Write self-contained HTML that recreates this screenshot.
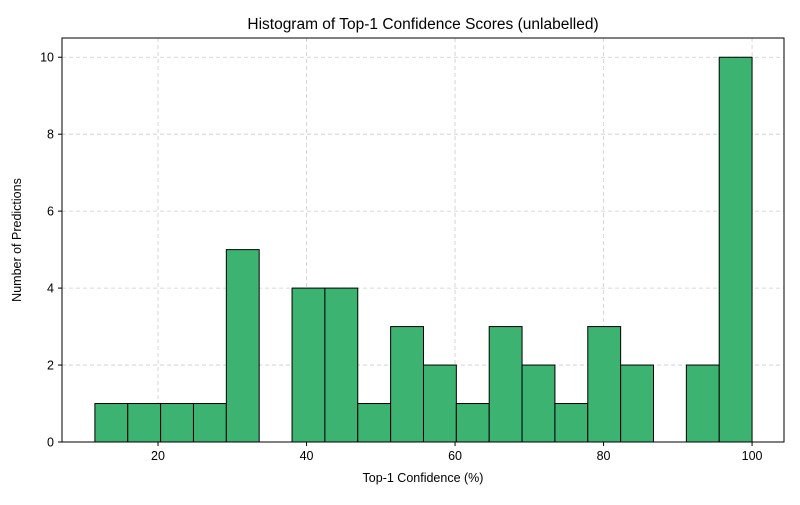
<!DOCTYPE html>
<html><head><meta charset="utf-8"><style>
body{margin:0;background:#fff;font-family:"Liberation Sans","DejaVu Sans",sans-serif}
</style></head><body>
<svg id="chart" width="800" height="500" xmlns="http://www.w3.org/2000/svg"></svg>
<script>
const counts=[1,1,1,1,5,0,4,4,1,3,2,1,3,2,1,3,2,0,2,10];
const binStart=11.5, binEnd=100;
const xTicks=[20,40,60,80,100];
const yTicks=[0,2,4,6,8,10];
const L=62,R=784,T=38,B=442;
const xMin=7.07,xMax=104.3,yMax=10.5;
const sx=v=>L+(v-xMin)/(xMax-xMin)*(R-L);
const sy=v=>B-v/yMax*(B-T);
const svg=document.getElementById('chart');
const NS='http://www.w3.org/2000/svg';
function mk(tag,attrs,parent){const e=document.createElementNS(NS,tag);for(const k in attrs)e.setAttribute(k,attrs[k]);(parent||svg).appendChild(e);return e;}
xTicks.forEach(t=>{const l=mk('line',{x1:sx(t),x2:sx(t),y1:T,y2:B,stroke:'#ccc','stroke-dasharray':'4,3','stroke-width':0.8});

});
yTicks.forEach(t=>{const l=mk('line',{x1:L,x2:R,y1:sy(t),y2:sy(t),stroke:'#ccc','stroke-dasharray':'4,3','stroke-width':0.8});

});
const w=(binEnd-binStart)/counts.length;
counts.forEach((c,i)=>{if(!c)return;const x0=sx(binStart+i*w),x1=sx(binStart+(i+1)*w);
const r=mk('rect',{x:x0,y:sy(c),width:x1-x0,height:sy(0)-sy(c),fill:'#3cb371',stroke:'#000','stroke-width':1});

});
const f=mk('rect',{x:L,y:T,width:R-L,height:B-T,fill:'none',stroke:'#000','stroke-width':1});


xTicks.forEach(t=>{mk('line',{x1:sx(t),x2:sx(t),y1:B,y2:B+4,stroke:'#000'});
const tx=mk('text',{x:sx(t),y:B+18,'text-anchor':'middle','font-size':12.5});tx.textContent=t;

});
yTicks.forEach(t=>{mk('line',{x1:L-4,x2:L,y1:sy(t),y2:sy(t),stroke:'#000'});
const tx=mk('text',{x:L-8,y:sy(t)+4.5,'text-anchor':'end','font-size':12.5});tx.textContent=t;

});
const ti=mk('text',{x:(L+R)/2,y:29,'text-anchor':'middle','font-size':15.5});ti.textContent='Histogram of Top-1 Confidence Scores (unlabelled)';


const xl=mk('text',{x:(L+R)/2,y:482,'text-anchor':'middle','font-size':12.5});xl.textContent='Top-1 Confidence (%)';


const yl=mk('text',{x:0,y:0,'text-anchor':'middle','font-size':12.5,transform:'translate(21,240) rotate(-90)'});yl.textContent='Number of Predictions';


</script>
</body></html>
